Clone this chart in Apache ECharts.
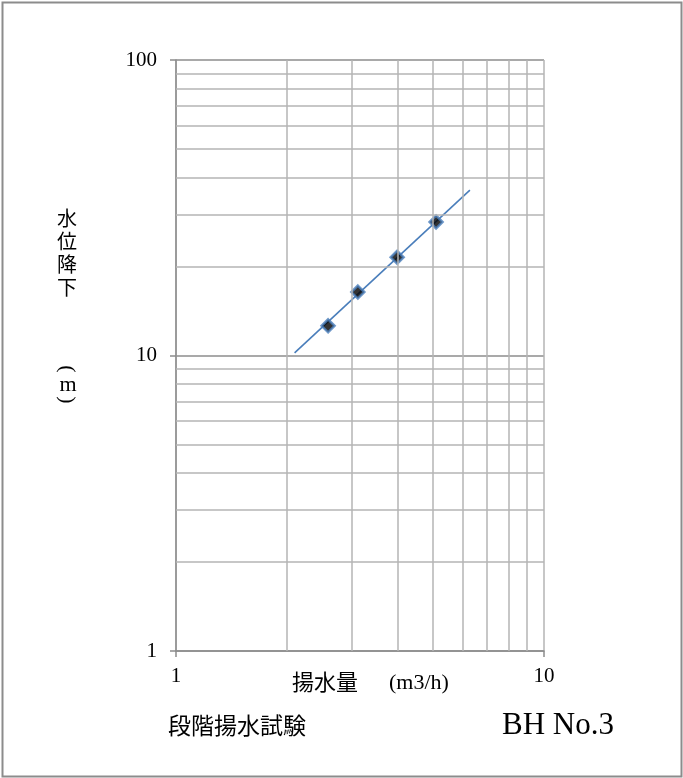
<!DOCTYPE html>
<html>
<head>
<meta charset="utf-8">
<title>段階揚水試験 BH No.3</title>
<script src="https://cdn.jsdelivr.net/npm/echarts@6/dist/echarts.min.js"></script>
<style>
  html, body { margin: 0; padding: 0; background: #fff; }
  #chart { width: 683px; height: 778px; }
</style>
</head>
<body>
<div id="chart"></div>
<script>
// Step-drawdown test: pumping rate (m3/h) vs drawdown (m)
const pumpingRate = [2.59, 3.12, 3.99, 5.09];
const drawdown = [12.6, 16.4, 21.5, 28.3];

// Power trendline end points (extended forward/backward)
const trendRate = [2.10, 6.29];
const trendDrawdown = [10.2, 36.3];

// Minor log grid values
const xMinorGrid = [2, 3, 4, 5, 6, 7, 8, 9];
const yMinorGrid = [2, 3, 4, 5, 6, 7, 8, 9, 20, 30, 40, 50, 60, 70, 80, 90];

const serif = '"Liberation Serif", "DejaVu Serif", "Noto Sans CJK JP", serif';
const cjk = '"Noto Sans CJK JP", sans-serif';
const majorColor = '#8c8c8c';
const minorColor = '#b5b5b5';

const minorLines = []
  .concat(xMinorGrid.map(v => ({ xAxis: v })))
  .concat(yMinorGrid.map(v => ({ yAxis: v })));

const chart = echarts.init(document.getElementById('chart'), null, { renderer: 'canvas' });

chart.setOption({
  animation: false,
  backgroundColor: '#ffffff',
  grid: { left: 176, right: 139, top: 60, bottom: 127, containLabel: false },
  xAxis: {
    type: 'log',
    logBase: 10,
    min: 1,
    max: 10,
    axisLine: { show: true, lineStyle: { color: majorColor, width: 1.5 } },
    axisTick: { show: true, length: 6, lineStyle: { color: majorColor, width: 1.5 } },
    axisLabel: { color: '#000', fontFamily: serif, fontSize: 21, margin: 15 },
    splitLine: { show: true, lineStyle: { color: minorColor, width: 1.5 } }
  },
  yAxis: {
    type: 'log',
    logBase: 10,
    min: 1,
    max: 100,
    axisLine: { show: true, lineStyle: { color: majorColor, width: 1.5 } },
    axisTick: { show: true, length: 6, lineStyle: { color: majorColor, width: 1.5 } },
    axisLabel: { color: '#000', fontFamily: serif, fontSize: 21, margin: 19 },
    splitLine: { show: true, lineStyle: { color: majorColor, width: 1.5 } }
  },
  series: [
    {
      name: 'grid',
      type: 'line',
      data: [],
      silent: true,
      markLine: {
        silent: true,
        symbol: ['none', 'none'],
        label: { show: false },
        lineStyle: { color: minorColor, width: 1.5, type: 'solid' },
        emphasis: { disabled: true },
        data: minorLines
      }
    },
    {
      name: 'trend',
      type: 'line',
      data: trendRate.map((x, i) => [x, trendDrawdown[i]]),
      showSymbol: false,
      symbol: 'none',
      lineStyle: { color: '#4a7ebb', width: 1.6 },
      z: 3
    },
    {
      name: 'measured',
      type: 'scatter',
      data: pumpingRate.map((x, i) => [x, drawdown[i]]),
      symbol: 'diamond',
      symbolSize: 13,
      itemStyle: { color: '#000000', borderColor: '#4a7ebb', borderWidth: 2.5 },
      z: 4
    }
  ],
  graphic: [
    {
      type: 'rect',
      silent: true,
      shape: { x: 2.5, y: 2.5, width: 679, height: 774 },
      style: { fill: null, stroke: '#8c8c8c', lineWidth: 2 }
    },
    {
      type: 'text',
      left: 57, top: 207,
      style: { text: '水\n位\n降\n下', font: '20px ' + cjk, lineHeight: 23, fill: '#000' }
    },
    // vertical-form parentheses around the unit
    {
      type: 'text',
      x: 67, y: 369,
      rotation: -Math.PI / 2,
      style: { text: '(', font: '22px ' + serif, align: 'center', verticalAlign: 'middle', fill: '#000' }
    },
    {
      type: 'text',
      x: 68, y: 385,
      style: { text: 'm', font: '22px ' + serif, align: 'center', verticalAlign: 'middle', fill: '#000' }
    },
    {
      type: 'text',
      x: 67, y: 400,
      rotation: -Math.PI / 2,
      style: { text: ')', font: '22px ' + serif, align: 'center', verticalAlign: 'middle', fill: '#000' }
    },
    {
      type: 'text',
      left: 292, top: 671,
      style: { text: '揚水量', font: '22px ' + cjk, fill: '#000' }
    },
    {
      type: 'text',
      left: 389, top: 672,
      style: { text: '(m3/h)', font: '22px ' + serif, fill: '#000' }
    },
    {
      type: 'text',
      left: 168, top: 714,
      style: { text: '段階揚水試験', font: '23px ' + cjk, fill: '#000' }
    },
    {
      type: 'text',
      left: 502, top: 710,
      style: { text: 'BH No.3', font: '31px ' + serif, fill: '#000' }
    }
  ]
});
</script>
</body>
</html>
